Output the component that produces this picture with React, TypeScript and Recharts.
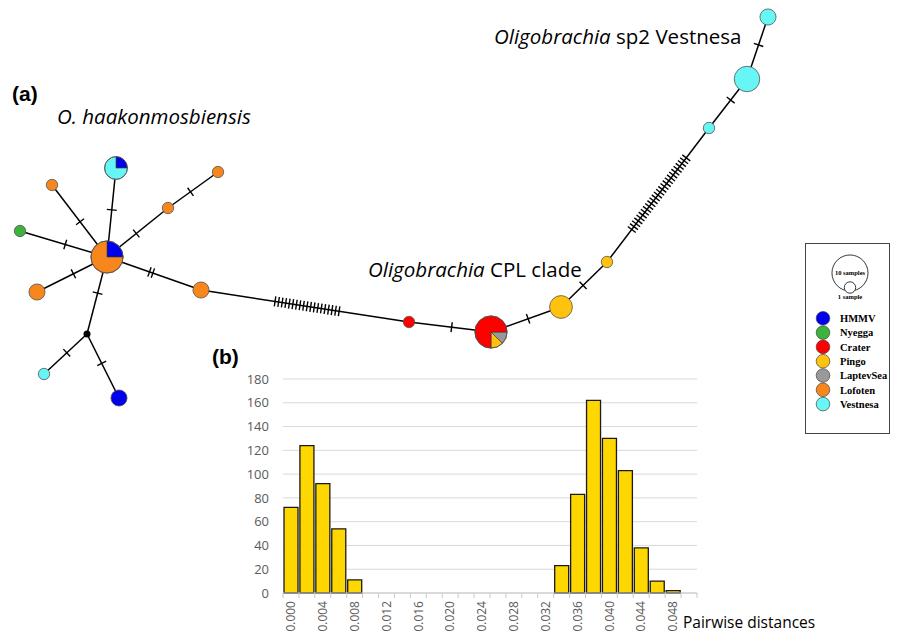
import React from "react";
import { ScatterChart, Scatter, XAxis, YAxis, BarChart, Bar, CartesianGrid } from "recharts";

// populations and their colours
const populations = ["HMMV", "Nyegga", "Crater", "Pingo", "LaptevSea", "Lofoten", "Vestnesa"];
const popColors = ["#0000ee", "#3cb43c", "#ff0000", "#ffc20e", "#999999", "#f7861c", "#66f6f6"];

// haplotypes (layout position + number of samples per population)
const haplotypes = [
  { id: "c", x: 107, y: 257, samples: { HMMV: 2, Lofoten: 6 } },
  { id: "v1", x: 116, y: 168, samples: { HMMV: 1, Vestnesa: 3 } },
  { id: "o1", x: 52, y: 185, samples: { Lofoten: 1 } },
  { id: "g1", x: 20, y: 231, samples: { Nyegga: 1 } },
  { id: "o2", x: 37, y: 292, samples: { Lofoten: 2 } },
  { id: "o3", x: 168, y: 208, samples: { Lofoten: 1 } },
  { id: "o4", x: 218, y: 172, samples: { Lofoten: 1 } },
  { id: "o5", x: 201, y: 290, samples: { Lofoten: 2 } },
  { id: "mv", x: 87, y: 334, samples: {} },
  { id: "v2", x: 44, y: 374, samples: { Vestnesa: 1 } },
  { id: "b1", x: 119, y: 398, samples: { HMMV: 2 } },
  { id: "r1", x: 409, y: 322, samples: { Crater: 1 } },
  { id: "R", x: 491, y: 332, samples: { LaptevSea: 1, Pingo: 1, Crater: 6 }, start: 0 },
  { id: "p1", x: 561, y: 307, samples: { Pingo: 4 } },
  { id: "p2", x: 607, y: 262, samples: { Pingo: 1 } },
  { id: "v3", x: 709, y: 128, samples: { Vestnesa: 1 } },
  { id: "v4", x: 747, y: 79, samples: { Vestnesa: 5 } },
  { id: "v5", x: 768, y: 17, samples: { Vestnesa: 2 } },
];

// links: number of mutation steps and where the hatches sit along the link
const links = [
  { from: "c", to: "v1", steps: 1, at: 0.53 },
  { from: "c", to: "o1", steps: 1, at: 0.49 },
  { from: "c", to: "g1", steps: 1, at: 0.48 },
  { from: "c", to: "o2", steps: 1, at: 0.48 },
  { from: "c", to: "o3", steps: 1, at: 0.48 },
  { from: "o3", to: "o4", steps: 1, at: 0.45 },
  { from: "c", to: "o5", steps: 2, at: 0.47 },
  { from: "c", to: "mv", steps: 1, at: 0.47 },
  { from: "mv", to: "v2", steps: 1, at: 0.47 },
  { from: "mv", to: "b1", steps: 1, at: 0.46 },
  { from: "o5", to: "r1", steps: 19, at: 0.51 },
  { from: "r1", to: "R", steps: 1, at: 0.52 },
  { from: "R", to: "p1", steps: 1, at: 0.53 },
  { from: "p1", to: "p2", steps: 1, at: 0.48 },
  { from: "p2", to: "v3", steps: 26, at: 0.51 },
  { from: "v3", to: "v4", steps: 1, at: 0.57 },
  { from: "v4", to: "v5", steps: 1, at: 0.55 },
];

// histogram of pairwise distances
const distances = [
  "0.000", "0.002", "0.004", "0.006", "0.008", "0.010", "0.012", "0.014", "0.016",
  "0.018", "0.020", "0.022", "0.024", "0.026", "0.028", "0.030", "0.032", "0.034",
  "0.036", "0.038", "0.040", "0.042", "0.044", "0.046", "0.048", "0.050",
];
const pairCounts = [72, 124, 92, 54, 11, 0, 0, 0, 0, 0, 0, 0, 0, 0, 0, 0, 0, 23, 83, 162, 130, 103, 38, 10, 2, 0];
const countTicks = [0, 20, 40, 60, 80, 100, 120, 140, 160, 180];

const histData = distances.map((d, i) => ({ dist: d, count: pairCounts[i] }));

const R_UNIT = 5.7; // radius of a 1-sample node
const HATCH_GAP = 3.6;
const BAND = 16;
const FONT = "'Open Sans', sans-serif";
const LEG_STEP = 14.3;

const byId = Object.fromEntries(haplotypes.map((h) => [h.id, h]));
const colorOf = (p: string) => popColors[populations.indexOf(p)];

const hatches = links.flatMap((l) => {
  const a = byId[l.from];
  const b = byId[l.to];
  const dx = b.x - a.x;
  const dy = b.y - a.y;
  const len = Math.hypot(dx, dy);
  const ang = (Math.atan2(dy, dx) * 180) / Math.PI + 90;
  const out = [];
  for (let k = 0; k < l.steps; k++) {
    const t = l.at + ((k - (l.steps - 1) / 2) * HATCH_GAP) / len;
    out.push({ x: a.x + dx * t, y: a.y + dy * t, ang });
  }
  return out;
});

function wedge(cx: number, cy: number, r: number, a0: number, a1: number) {
  const rad = Math.PI / 180;
  const x0 = cx + r * Math.cos(a0 * rad);
  const y0 = cy + r * Math.sin(a0 * rad);
  const x1 = cx + r * Math.cos(a1 * rad);
  const y1 = cy + r * Math.sin(a1 * rad);
  const large = a1 - a0 > 180 ? 1 : 0;
  return `M${cx},${cy} L${x0},${y0} A${r},${r} 0 ${large} 1 ${x1},${y1} Z`;
}

function HaploNode(props: any) {
  const { cx, cy, payload } = props;
  const entries = Object.entries(payload.samples as Record<string, number>);
  const total = entries.reduce((s, [, n]) => s + n, 0);
  if (total === 0) return <circle cx={cx} cy={cy} r={3.5} fill="#000" />;
  const r = R_UNIT * Math.sqrt(total);
  if (entries.length === 1) {
    return <circle cx={cx} cy={cy} r={r} fill={colorOf(entries[0][0])} stroke="#555" strokeWidth={0.8} />;
  }
  let a = payload.start ?? -90;
  return (
    <g>
      {entries.map(([p, n]) => {
        const a0 = a;
        a += (n / total) * 360;
        return <path key={p} d={wedge(cx, cy, r, a0, a)} fill={colorOf(p)} stroke="#333" strokeWidth={0.6} />;
      })}
      <circle cx={cx} cy={cy} r={r} fill="none" stroke="#555" strokeWidth={0.8} />
    </g>
  );
}

function Hatch(props: any) {
  const { cx, cy, payload } = props;
  const rad = (payload.ang * Math.PI) / 180;
  const h = 5;
  return (
    <line
      x1={cx - h * Math.cos(rad)}
      y1={cy - h * Math.sin(rad)}
      x2={cx + h * Math.cos(rad)}
      y2={cy + h * Math.sin(rad)}
      stroke="#000"
      strokeWidth={1.4}
    />
  );
}

function DistTick(props: any) {
  const { x, y, payload } = props;
  const i = payload.index;
  const ty = y + 8;
  return (
    <g>
      <line x1={x - BAND / 2} x2={x - BAND / 2} y1={y} y2={y + 5} stroke="#c8c8c8" />
      {i === distances.length - 1 && <line x1={x + BAND / 2} x2={x + BAND / 2} y1={y} y2={y + 5} stroke="#c8c8c8" />}
      {i % 2 === 0 && (
        <text
          x={x}
          y={ty}
          dy="0.35em"
          transform={`rotate(-90 ${x} ${ty})`}
          textAnchor="end"
          fill="#595959"
          fontSize={12}
          fontFamily="'Open Sans', sans-serif"
        >
          {payload.value}
        </text>
      )}
    </g>
  );
}

export default function App() {
  return (
    <div style={{ position: "absolute", left: 0, top: 0, width: 901, height: 636, overflow: "hidden", background: "#fff" }}>
      {/* (a) haplotype network, data units = pixels */}
      <div style={{ position: "absolute", left: 0, top: 0 }}>
        <ScatterChart width={1000} height={1000} margin={{ top: 0, right: 0, bottom: 0, left: 0 }}>
          <XAxis type="number" dataKey="x" domain={[0, 1000]} hide />
          <YAxis type="number" dataKey="y" domain={[0, 1000]} reversed hide />
          {links.map((l, i) => (
            <Scatter
              key={`link-${i}`}
              data={[byId[l.from], byId[l.to]]}
              line={{ stroke: "#000", strokeWidth: 1.5 }}
              shape={() => <g />}
              isAnimationActive={false}
            />
          ))}
          <Scatter data={hatches} shape={(p: any) => <Hatch {...p} />} isAnimationActive={false} />
          <Scatter data={haplotypes} shape={(p: any) => <HaploNode {...p} />} isAnimationActive={false} />
        </ScatterChart>
      </div>

      {/* (b) pairwise distance histogram */}
      <div style={{ position: "absolute", left: 240, top: 365 }}>
        <BarChart width={470} height={271} data={histData} margin={{ top: 14, right: 13, bottom: 0, left: 0 }} barCategoryGap={1}>
          <CartesianGrid vertical={false} stroke="#d9d9d9" />
          <XAxis
            dataKey="dist"
            interval={0}
            tickSize={0}
            tickMargin={0}
            height={43}
            tickLine={false}
            axisLine={{ stroke: "#c8c8c8" }}
            tick={(p: any) => <DistTick {...p} />}
          />
          <YAxis
            width={43}
            domain={[0, 180]}
            ticks={countTicks}
            tickCount={10}
            axisLine={false}
            tickLine={false}
            tickMargin={8}
            tick={{ fill: "#595959", fontSize: 13, fontFamily: "'Open Sans', sans-serif" }}
          />
          <Bar dataKey="count" fill="#ffd700" stroke="#1a1a1a" strokeWidth={1.3} isAnimationActive={false} />
        </BarChart>
      </div>

      {/* labels and legend */}
      <svg width={901} height={636} style={{ position: "absolute", left: 0, top: 0, pointerEvents: "none" }}>
        <text x={12} y={101} fontFamily="'Liberation Sans', Arial, sans-serif" fontWeight="bold" fontSize={21}>(a)</text>
        <text x={212} y={364} fontFamily="'Liberation Sans', Arial, sans-serif" fontWeight="bold" fontSize={21}>(b)</text>
        <text x={57} y={124} fontFamily={FONT} fontStyle="italic" fontSize={20.5}>O. haakonmosbiensis</text>
        <text x={494} y={44} fontFamily={FONT} fontSize={20.5}>
          <tspan fontStyle="italic">Oligobrachia</tspan> sp2 Vestnesa
        </text>
        <text x={368} y={277} fontFamily={FONT} fontSize={20.5}>
          <tspan fontStyle="italic">Oligobrachia</tspan> CPL clade
        </text>
        <text x={683} y={628} fontFamily="'Open Sans', sans-serif" fontSize={15.5}>Pairwise distances</text>

        <rect x={805.5} y={243.5} width={84} height={190} fill="#fff" stroke="#444" strokeWidth={1} />
        <circle cx={850} cy={273} r={R_UNIT * Math.sqrt(10)} fill="none" stroke="#222" strokeWidth={0.9} />
        <text x={850} y={275} textAnchor="middle" fontFamily="'Liberation Serif', serif" fontWeight="bold" fontSize={6.5}>10 samples</text>
        <circle cx={850} cy={287.5} r={R_UNIT} fill="#fff" stroke="#222" strokeWidth={0.9} />
        <text x={850} y={299} textAnchor="middle" fontFamily="'Liberation Serif', serif" fontWeight="bold" fontSize={6.5}>1 sample</text>
        {populations.map((p, i) => (
          <g key={p}>
            <circle cx={823} cy={318.3 + i * LEG_STEP} r={6.8} fill={popColors[i]} stroke="#444" strokeWidth={0.7} />
            <text x={840} y={322 + i * LEG_STEP} fontFamily="'Liberation Serif', serif" fontWeight="bold" fontSize={10.5}>{p}</text>
          </g>
        ))}
      </svg>
    </div>
  );
}
